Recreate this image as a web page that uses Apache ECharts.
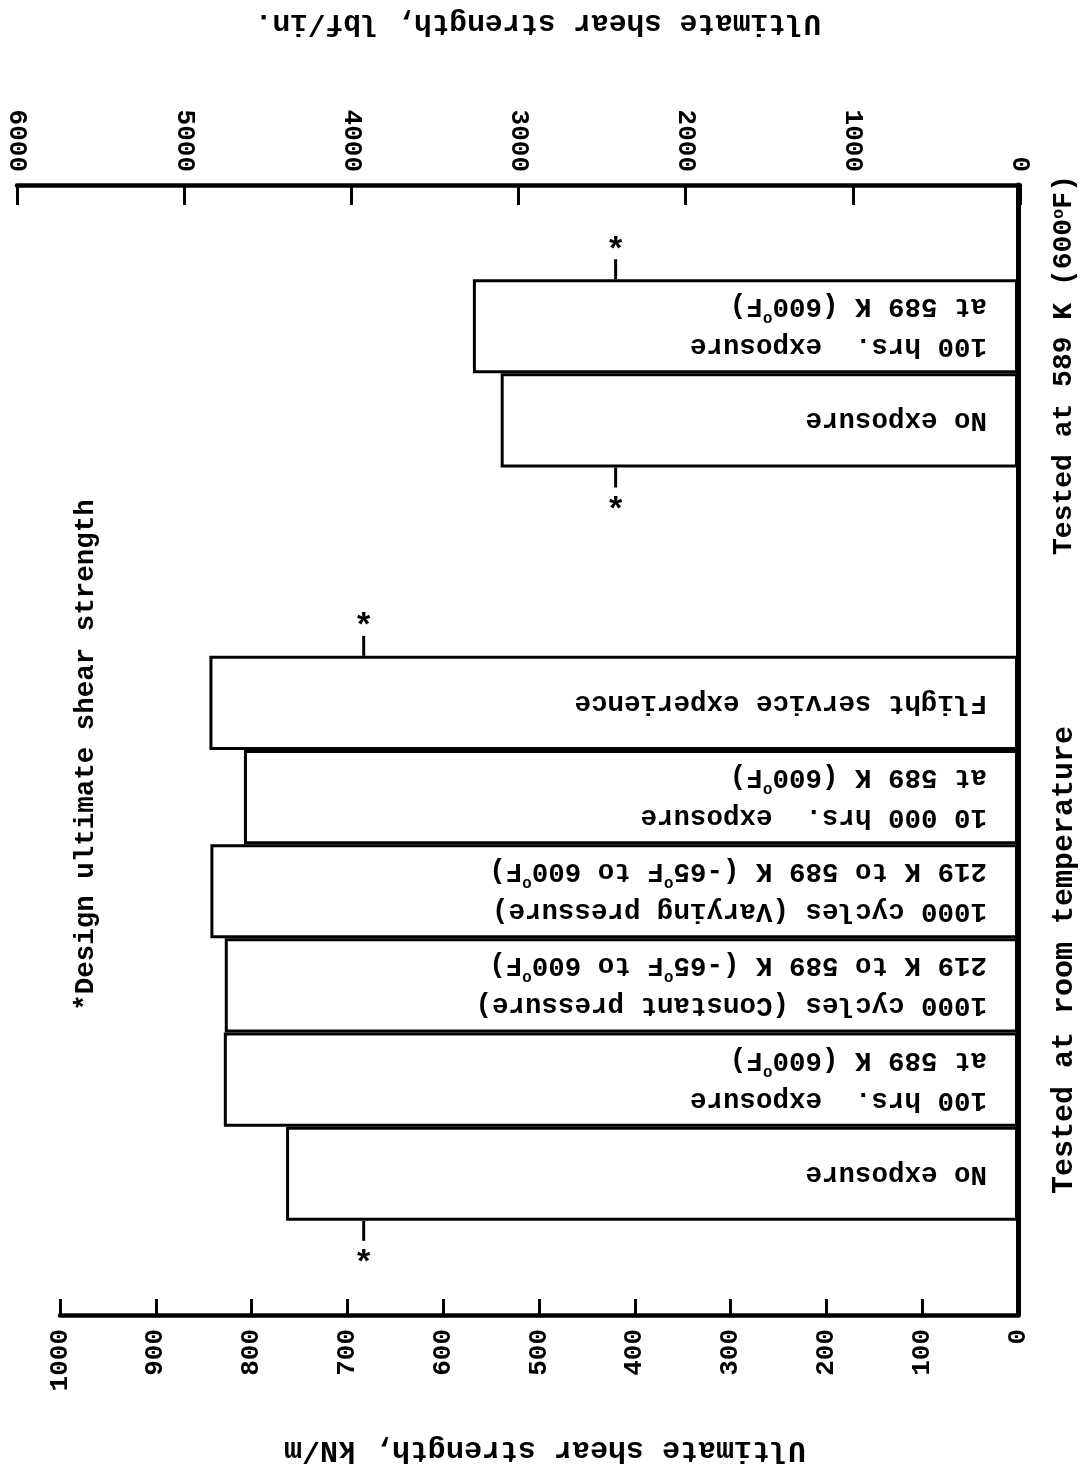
<!DOCTYPE html>
<html>
<head>
<meta charset="utf-8">
<script src="https://cdn.jsdelivr.net/npm/echarts@6/dist/echarts.min.js"></script>
<style>
  html, body { margin: 0; padding: 0; background: #fff; }
  #main { width: 1086px; height: 1477px; }
</style>
</head>
<body>
<div id="main"></div>
<script>
// categories top -> bottom, '' = empty slot
var categories = ['', 'g1_100h', 'g1_none', '', '', 'g2_flight', 'g2_10000h', 'g2_varying', 'g2_constant', 'g2_100h', 'g2_none', ''];
// ultimate shear strength, kN/m
var strengthKNm = [null, 569, 540, null, null, 844, 808, 843, 828, 829, 764, null];
var barLabels = [
  '',
  '100 hrs.  exposure\nat 589 K (600{s|o}F)',
  'No exposure',
  '',
  '',
  'Flight service experience',
  '10 000 hrs.  exposure\nat 589 K (600{s|o}F)',
  '1000 cycles (Varying pressure)\n219 K to 589 K (-65{s|o}F to 600{s|o}F)',
  '1000 cycles (Constant pressure)\n219 K to 589 K (-65{s|o}F to 600{s|o}F)',
  '100 hrs.  exposure\nat 589 K (600{s|o}F)',
  'No exposure',
  ''
];
// design ultimate shear strength marks: [kN/m, category index, side (-1 above, 1 below)]
var designMarks = [[420, 1, -1], [420, 2, 1], [683, 5, -1], [683, 10, 1]];
var kNmRange = [0, 1000];
var lbfRange = [0, 6000];

var FONT = '"Liberation Mono", monospace';
var chart = echarts.init(document.getElementById('main'));

var option = {
  backgroundColor: '#fff',
  animation: false,
  grid: [
    { left: 17, right: 66, top: 185, bottom: 162 },
    { left: 60, right: 68, top: 185, bottom: 162 }
  ],
  xAxis: [
    {
      gridIndex: 0, type: 'value', position: 'top', inverse: true,
      min: lbfRange[0], max: lbfRange[1], interval: 1000,
      axisLine: { show: true, lineStyle: { color: '#000', width: 4.5 } },
      axisTick: { show: true, inside: true, length: 20, lineStyle: { color: '#000', width: 3 } },
      axisLabel: { rotate: 90, margin: 13, color: '#000', fontFamily: FONT, fontWeight: 'bold', fontSize: 26,
        formatter: function (v) { return String(v); } },
      splitLine: { show: false }
    },
    {
      gridIndex: 1, type: 'value', position: 'bottom', inverse: true,
      min: kNmRange[0], max: kNmRange[1], interval: 100,
      axisLine: { show: true, lineStyle: { color: '#000', width: 4.5 } },
      axisTick: { show: true, inside: true, length: 16, lineStyle: { color: '#000', width: 3 } },
      axisLabel: { rotate: 90, margin: 14, color: '#000', fontFamily: FONT, fontWeight: 'bold', fontSize: 26,
        formatter: function (v) { return String(v); } },
      splitLine: { show: false }
    }
  ],
  yAxis: [
    { gridIndex: 0, type: 'category', data: categories, inverse: true, show: false },
    {
      gridIndex: 1, type: 'category', data: categories, inverse: true, position: 'right',
      axisLine: { show: true, lineStyle: { color: '#000', width: 5 } },
      axisTick: { show: false },
      axisLabel: { show: false }
    }
  ],
  series: [
    {
      type: 'bar',
      xAxisIndex: 1, yAxisIndex: 1,
      data: strengthKNm,
      barWidth: '100%',
      barCategoryGap: '0%',
      itemStyle: { color: '#fff', borderColor: '#000', borderWidth: 3 },
      label: {
        show: true,
        position: 'insideRight',
        distance: 31,
        rotate: 180,
        align: 'left',
        verticalAlign: 'middle',
        color: '#000',
        fontFamily: FONT,
        fontWeight: 'bold',
        fontSize: 27.5,
        lineHeight: 40,
        formatter: function (p) { return barLabels[p.dataIndex]; },
        rich: {
          s: { fontFamily: FONT, fontWeight: 'bold', fontSize: 16, verticalAlign: 'top', lineHeight: 40, color: '#000' }
        }
      }
    },
    {
      type: 'custom',
      xAxisIndex: 1, yAxisIndex: 1,
      data: designMarks,
      renderItem: function (params, api) {
        var p = api.coord([api.value(0), api.value(1)]);
        var h = api.size([0, 1])[1];
        var dir = api.value(2);
        var y0 = p[1] + dir * h / 2;
        return {
          type: 'group',
          children: [
            { type: 'line', shape: { x1: p[0], y1: y0, x2: p[0], y2: y0 + dir * 20 },
              style: { stroke: '#000', lineWidth: 3 } },
            { type: 'text', x: p[0], y: y0 + dir * 36 + 8,
              style: { text: '*', fill: '#000', font: 'bold 34px ' + FONT, align: 'center', verticalAlign: 'middle' } }
          ]
        };
      }
    }
  ],
  graphic: [
    { type: 'text', x: 538, y: 22, rotation: Math.PI,
      style: { text: 'Ultimate shear strength, lbf/in.', fill: '#000', font: 'bold 29.5px ' + FONT, align: 'center', verticalAlign: 'middle' } },
    { type: 'text', x: 545, y: 1450, rotation: Math.PI,
      style: { text: 'Ultimate shear strength, kN/m', fill: '#000', font: 'bold 30px ' + FONT, align: 'center', verticalAlign: 'middle' } },
    { type: 'text', x: 1064, y: 365, rotation: Math.PI / 2,
      style: { text: 'Tested at 589 K (600{s|o}F)', fill: '#000', font: 'bold 28px ' + FONT, align: 'center', verticalAlign: 'middle',
        rich: { s: { font: 'bold 17px ' + FONT, verticalAlign: 'top', fill: '#000' } } } },
    { type: 'text', x: 1064, y: 960, rotation: Math.PI / 2,
      style: { text: 'Tested at room temperature', fill: '#000', font: 'bold 30px ' + FONT, align: 'center', verticalAlign: 'middle' } },
    { type: 'text', x: 86, y: 755, rotation: Math.PI / 2,
      style: { text: '*Design ultimate shear strength', fill: '#000', font: 'bold 27.5px ' + FONT, align: 'center', verticalAlign: 'middle' } }
  ]
};
chart.setOption(option);
</script>
</body>
</html>
